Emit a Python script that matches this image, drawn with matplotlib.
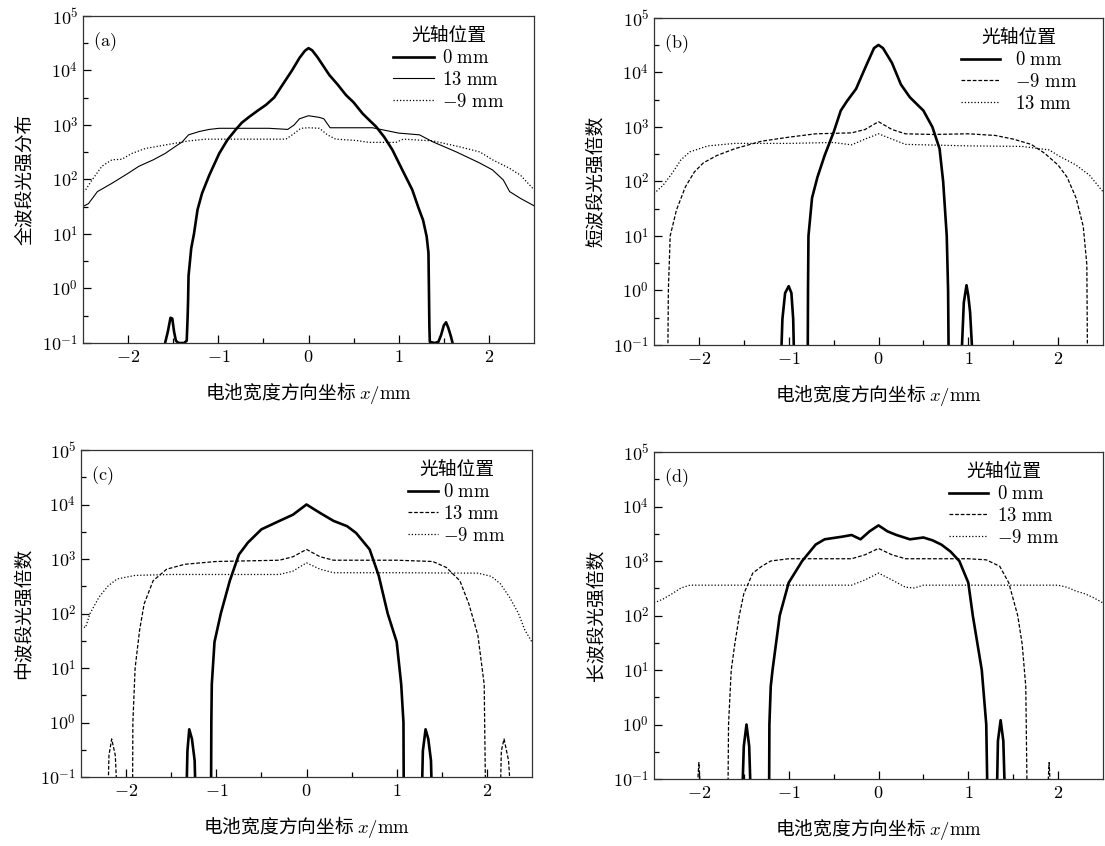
import numpy as np
import matplotlib.pyplot as plt
from matplotlib.ticker import FixedLocator, FuncFormatter

plt.rcParams['font.family'] = ['Noto Sans CJK SC', 'DejaVu Sans']
plt.rcParams['mathtext.fontset'] = 'cm'
plt.rcParams['axes.unicode_minus'] = False

# ---- (a) full band ----
a_x_0 = [-1.62, -1.59, -1.56, -1.53, -1.51, -1.49, -1.47, -1.44, -1.38, -1.35, -1.34, -1.335,
         -1.33, -1.30, -1.27, -1.23, -1.18, -1.10, -0.99, -0.90, -0.81, -0.74, -0.66, -0.57,
         -0.47, -0.38, -0.29, -0.18, -0.10, -0.04, 0.0, 0.04, 0.10, 0.23, 0.32, 0.415, 0.50,
         0.60, 0.68, 0.75, 0.84, 0.93, 1.04, 1.15, 1.22, 1.27, 1.31, 1.33, 1.335, 1.34, 1.345,
         1.40, 1.44, 1.47, 1.50, 1.525, 1.55, 1.58, 1.62]
a_y_0 = [0.06, 0.1, 0.16, 0.29, 0.28, 0.16, 0.11, 0.1, 0.1, 0.11, 0.3, 0.6,
         1.7, 5.5, 10, 28, 56, 120, 300, 530, 810, 1100, 1400, 1800,
         2350, 3200, 5400, 10200, 17000, 23000, 25700, 23500, 17500, 8300, 5600, 3550, 2600,
         1620, 1200, 930, 600, 350, 150, 65, 30, 18, 9, 4.5, 1.0, 0.2, 0.105,
         0.1, 0.105, 0.14, 0.21, 0.24, 0.19, 0.13, 0.07]
a_x_13 = [-2.5, -2.44, -2.34, -2.18, -2.0, -1.88, -1.72, -1.59, -1.48, -1.40, -1.33, -1.21,
          -1.10, -0.99, -0.44, -0.23, -0.16, -0.10, 0.0, 0.12, 0.17, 0.24, 0.71, 1.0, 1.23,
          1.38, 1.64, 1.90, 2.04, 2.16, 2.23, 2.35, 2.5]
a_y_13 = [32, 36, 60, 85, 130, 175, 230, 300, 400, 490, 660, 760,
          830, 870, 870, 830, 1000, 1300, 1480, 1380, 1300, 890, 890, 710, 660,
          490, 320, 200, 150, 98, 60, 45, 33]
a_x_m9 = [-2.5, -2.47, -2.4, -2.29, -2.18, -2.07, -1.96, -1.81, -1.59, -1.33, -1.14, -0.25,
          -0.18, -0.085, 0.0, 0.12, 0.21, 0.30, 0.53, 0.67, 0.97, 1.05, 1.38, 1.67, 1.90,
          2.04, 2.23, 2.35, 2.5]
a_y_m9 = [60, 65, 98, 175, 230, 235, 300, 370, 430, 510, 550, 550,
          660, 870, 890, 870, 660, 550, 520, 480, 480, 550, 510, 400, 320,
          230, 160, 120, 65]

# ---- (b) short band ----
b_x_0 = [-1.10, -1.07, -1.04, -1.0, -0.97, -0.95, -0.93, -0.80, -0.79, -0.785, -0.78, -0.74,
         -0.68, -0.6, -0.5, -0.42, -0.35, -0.25, -0.15, -0.05, 0.0, 0.05, 0.15, 0.25, 0.35,
         0.5, 0.6, 0.68, 0.72, 0.76, 0.775, 0.78, 0.79, 0.92, 0.93, 0.95, 0.98, 1.0, 1.02,
         1.04, 1.05]
b_y_0 = [0.01, 0.3, 0.9, 1.2, 0.9, 0.3, 0.01, 0.01, 0.01, 1, 10, 50,
         120, 300, 800, 2000, 3000, 5000, 12000, 28000, 32000, 28000, 15000, 6000, 3500,
         2000, 1000, 400, 100, 10, 1, 0.1, 0.01, 0.01, 0.1, 0.6, 1.25, 0.8, 0.4,
         0.1, 0.01]
b_x_m9 = [-2.35, -2.34, -2.32, -2.25, -2.15, -2.05, -1.95, -1.8, -1.6, -1.3, -1.0, -0.7,
          -0.3, -0.15, 0.0, 0.15, 0.3, 0.6, 1.0, 1.3, 1.5, 1.7, 1.85, 2.0, 2.1, 2.2, 2.28,
          2.32, 2.33]
b_y_m9 = [0.01, 1, 10, 30, 80, 150, 220, 300, 400, 550, 650, 750,
          780, 900, 1250, 900, 750, 730, 750, 700, 600, 480, 330, 200, 120, 50, 15,
          3, 0.01]
b_x_13 = [-2.5, -2.4, -2.3, -2.2, -2.1, -1.9, -1.6, -1.0, -0.5, -0.3, -0.15, 0.0, 0.15,
          0.3, 1.0, 1.6, 1.9, 2.0, 2.2, 2.35, 2.5]
b_y_13 = [60, 85, 140, 250, 350, 450, 500, 500, 520, 470, 600, 750, 600,
          480, 450, 440, 380, 300, 200, 130, 65]

# ---- (c) medium band ----
c_x_0 = [-1.34, -1.32, -1.30, -1.27, -1.24, -1.22, -1.06, -1.055, -1.05, -1.02, -0.95,
         -0.85, -0.75, -0.65, -0.5, -0.3, -0.15, 0.0, 0.15, 0.3, 0.45, 0.55, 0.7, 0.8, 0.9,
         1.0, 1.05, 1.075, 1.08, 1.27, 1.29, 1.32, 1.35, 1.38, 1.40]
c_y_0 = [0.01, 0.3, 0.75, 0.5, 0.2, 0.01, 0.01, 1, 5, 30, 100,
         400, 1200, 2000, 3500, 5000, 6500, 10000, 7000, 5000, 4000, 3000, 1500, 500, 100,
         30, 5, 1, 0.01, 0.01, 0.3, 0.75, 0.5, 0.2, 0.01]
c_x_13 = [-2.21, -2.19, -2.16, -2.12, -2.08, -1.93, -1.925, -1.9, -1.85, -1.8, -1.7, -1.55,
          -1.35, -1.0, -0.3, -0.15, 0.0, 0.15, 0.3, 1.0, 1.4, 1.55, 1.7, 1.8, 1.9, 1.97,
          1.99, 2.14, 2.16, 2.19, 2.24, 2.29]
c_y_13 = [0.01, 0.25, 0.5, 0.25, 0.01, 0.01, 1, 10, 50, 150, 400, 650,
          800, 900, 950, 1100, 1500, 1100, 950, 950, 900, 700, 400, 150, 40, 5,
          0.01, 0.01, 0.3, 0.5, 0.2, 0.01]
c_x_m9 = [-2.5, -2.45, -2.4, -2.3, -2.2, -2.1, -1.9, -1.5, -0.3, -0.15, 0.0, 0.15, 0.3,
          1.0, 1.9, 2.05, 2.15, 2.25, 2.35, 2.42, 2.5]
c_y_m9 = [60, 55, 100, 200, 320, 430, 500, 520, 520, 600, 850, 650, 560,
          560, 550, 480, 350, 200, 100, 50, 30]

# ---- (d) long band ----
d_x_0 = [-1.53, -1.50, -1.47, -1.44, -1.41, -1.22, -1.215, -1.20, -1.18, -1.1, -1.0, -0.85,
         -0.7, -0.6, -0.4, -0.3, -0.2, -0.1, 0.0, 0.1, 0.2, 0.35, 0.5, 0.6, 0.7, 0.8, 0.9,
         1.0, 1.05, 1.15, 1.2, 1.22, 1.31, 1.33, 1.36, 1.39, 1.42]
d_y_0 = [0.01, 0.4, 1.0, 0.4, 0.01, 0.01, 1, 5, 10, 100, 400, 1000,
         2000, 2500, 2800, 3000, 2500, 3500, 4500, 3500, 3000, 2500, 2700, 2400, 2000, 1500, 1000,
         400, 100, 10, 1, 0.01, 0.01, 0.5, 1.2, 0.5, 0.01]
d_x_13 = [-2.05, -2.0, -1.96, -1.68, -1.67, -1.64, -1.6, -1.55, -1.5, -1.4, -1.3, -1.2, -1.0,
          -0.3, -0.15, 0.0, 0.15, 0.3, 1.0, 1.2, 1.35, 1.45, 1.55, 1.6, 1.64, 1.66, 1.86,
          1.9, 1.94]
d_y_13 = [0.01, 0.2, 0.01, 0.01, 1, 10, 30, 100, 250, 600, 800, 1000, 1100,
          1100, 1300, 1700, 1300, 1100, 1100, 1050, 800, 400, 100, 30, 5, 0.01, 0.01,
          0.2, 0.01]
d_x_m9 = [-2.5, -2.4, -2.3, -2.2, -2.1, -1.5, -0.3, -0.15, 0.0, 0.15, 0.3, 0.4, 0.5, 1.0,
          2.0, 2.1, 2.2, 2.3, 2.4, 2.5]
d_y_m9 = [170, 200, 250, 320, 360, 360, 360, 450, 600, 450, 330, 320, 360, 360,
          360, 330, 280, 250, 210, 170]

y_labels = ['全波段光强分布', '短波段光强倍数', '中波段光强倍数', '长波段光强倍数']
panel_tags = ['(a)', '(b)', '(c)', '(d)']
x_label = '电池宽度方向坐标 $x/\\mathrm{mm}$'
legend_title = '光轴位置'

thick = dict(color='black', lw=1.9, ls='-')
thin = dict(color='black', lw=0.8, ls='-')
dashed = dict(color='black', lw=0.9, ls=(0, (3, 1.5)))
dotted = dict(color='black', lw=0.9, ls=(0, (1, 1.6)))

panels = [
    [(a_x_0, a_y_0, '0', thick), (a_x_13, a_y_13, '13', thin), (a_x_m9, a_y_m9, '-9', dotted)],
    [(b_x_0, b_y_0, '0', thick), (b_x_m9, b_y_m9, '-9', dashed), (b_x_13, b_y_13, '13', dotted)],
    [(c_x_0, c_y_0, '0', thick), (c_x_13, c_y_13, '13', dashed), (c_x_m9, c_y_m9, '-9', dotted)],
    [(d_x_0, d_y_0, '0', thick), (d_x_13, d_y_13, '13', dashed), (d_x_m9, d_y_m9, '-9', dotted)],
]

fig = plt.figure(figsize=(11.05, 8.46), dpi=100)
rects = [
    [83 / 1105, 1 - 343 / 846, 451 / 1105, 327 / 846],
    [654 / 1105, 1 - 345 / 846, 449 / 1105, 327 / 846],
    [81 / 1105, 1 - 777 / 846, 451 / 1105, 327 / 846],
    [654 / 1105, 1 - 779 / 846, 449 / 1105, 327 / 846],
]
# per-panel legend placement: (anchor x, handle length, text pad)
legend_opts = [(0.95, 2.2, 0.4), (0.96, 2.1, 0.8), (0.958, 1.6, 0.3), (0.92, 2.1, 0.5)]

for i, rect in enumerate(rects):
    ax = fig.add_axes(rect)
    for xs, ys, name, style in panels[i]:
        ax.plot(xs, ys, label='$%s\\ \\mathrm{mm}$' % name, **style)
    ax.set_yscale('log')
    ax.set_xlim(-2.5, 2.5)
    ax.set_ylim(0.1, 1e5)

    ax.xaxis.set_major_locator(FixedLocator([-2, -1, 0, 1, 2]))
    ax.xaxis.set_minor_locator(FixedLocator([-1.5, -0.5, 0.5, 1.5]))
    ax.xaxis.set_major_formatter(FuncFormatter(lambda v, p: '$%d$' % round(v)))
    ax.yaxis.set_major_locator(FixedLocator([10.0 ** k for k in range(-1, 6)]))
    ax.yaxis.set_minor_locator(FixedLocator([10.0 ** (k + 0.5) for k in range(-1, 5)]))
    ax.yaxis.set_major_formatter(FuncFormatter(lambda v, p: '$10^{%d}$' % round(np.log10(v))))
    ax.tick_params(which='both', direction='in', top=False, right=False,
                   labelsize=13, width=0.9)
    ax.tick_params(which='major', length=6)
    ax.tick_params(which='minor', length=3.5)
    for sp in ax.spines.values():
        sp.set_linewidth(0.9)
        sp.set_color('#333333')

    ax.set_xlabel(x_label, fontsize=13.5, labelpad=10)
    ax.set_ylabel(y_labels[i], fontsize=13.5, labelpad=5)
    ax.text(0.022, 0.955, '$\\mathrm{%s}$' % panel_tags[i], transform=ax.transAxes,
            fontsize=13, va='top', ha='left')
    ax_x, h_len, h_pad = legend_opts[i]
    ax.legend(loc='upper right', bbox_to_anchor=(ax_x, 0.995), frameon=False,
              title=legend_title, fontsize=13.5, title_fontsize=13.5,
              handlelength=h_len, handletextpad=h_pad, labelspacing=0.05,
              borderaxespad=0.0)

fig.savefig('out.png', dpi=100)
